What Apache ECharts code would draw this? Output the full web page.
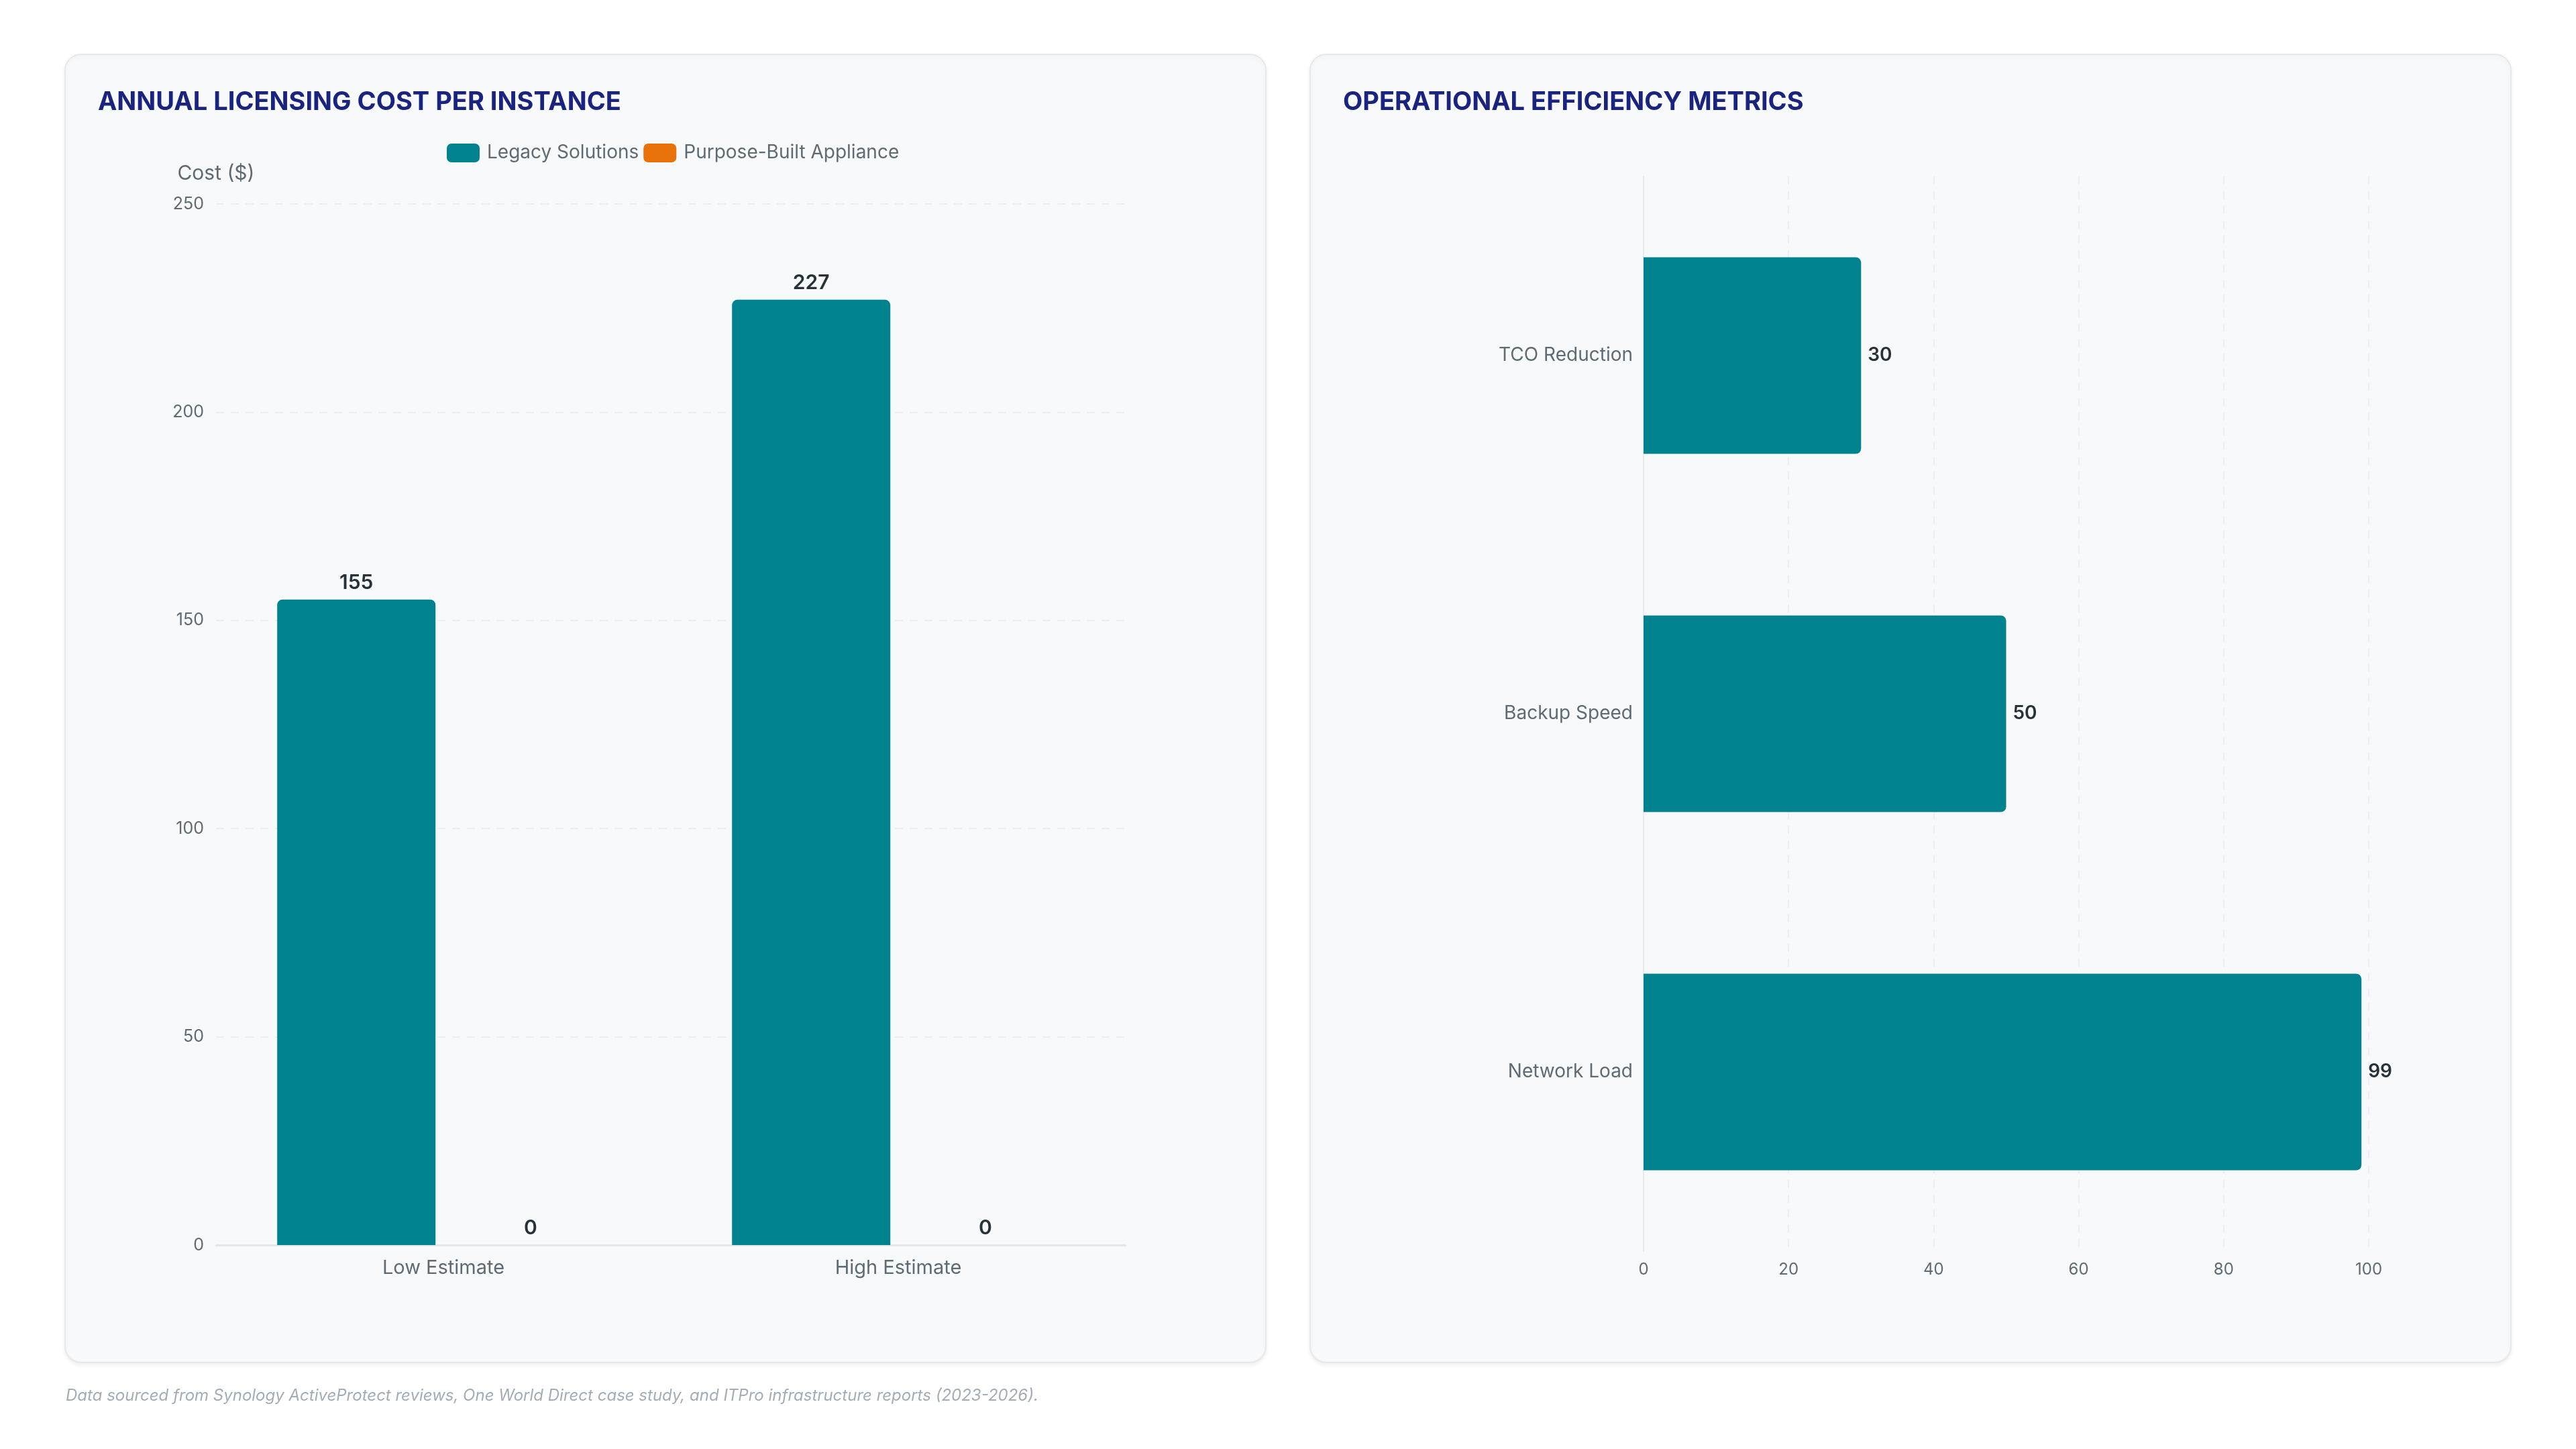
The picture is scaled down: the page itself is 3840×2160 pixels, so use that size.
<!DOCTYPE html>
<html>
<head>
<meta charset="utf-8">
<script src="https://cdn.jsdelivr.net/npm/echarts@6/dist/echarts.min.js"></script>
<style>
  html, body { margin: 0; padding: 0; background: #ffffff; }
  #main { width: 3840px; height: 2160px; }
</style>
</head>
<body>
<div id="main"></div>
<script>
// data
var costCategories = ['Low Estimate', 'High Estimate'];
var legacyCost = [155, 227];
var applianceCost = [0, 0];
var costTicks = { min: 0, max: 250, interval: 50 };

var metricNames = ['Network Load', 'Backup Speed', 'TCO Reduction'];
var metricValues = [99, 50, 30];
var metricTicks = { min: 0, max: 100, interval: 20 };

var FONT = 'Inter, "Noto Sans", sans-serif';
var TEAL = '#00838f';
var ORANGE = '#e8710a';
var NAVY = '#1a237e';
var LABEL = '#5f6b73';
var GRIDLINE = '#eceef1';

var chart = echarts.init(document.getElementById('main'));

function card(x) {
  return {
    type: 'rect',
    z: -10,
    shape: { x: x, y: 81, width: 1790, height: 1950, r: 24 },
    style: {
      fill: '#f8f9fb',
      stroke: '#e6e8eb',
      lineWidth: 2,
      shadowColor: 'rgba(0,0,0,0.06)',
      shadowBlur: 6,
      shadowOffsetY: 3
    }
  };
}

var option = {
  backgroundColor: '#ffffff',
  textStyle: { fontFamily: FONT },
  animation: false,
  title: [
    {
      text: 'ANNUAL LICENSING COST PER INSTANCE',
      left: 146, top: 134, padding: 0,
      textStyle: { color: NAVY, fontSize: 38, fontWeight: 700, fontFamily: FONT }
    },
    {
      text: 'OPERATIONAL EFFICIENCY METRICS',
      left: 2002, top: 134, padding: 0,
      textStyle: { color: NAVY, fontSize: 38, fontWeight: 700, fontFamily: FONT }
    }
  ],
  legend: {
    data: ['Legacy Solutions', 'Purpose-Built Appliance'],
    left: 666, top: 214, padding: 0,
    icon: 'roundRect',
    itemWidth: 49, itemHeight: 28, itemGap: 7,
    textStyle: { color: LABEL, fontSize: 28, fontFamily: FONT, padding: [0, 0, 0, 6] }
  },
  graphic: [
    card(97),
    card(1953),
    {
      type: 'text',
      left: 98, top: 2069,
      style: {
        text: 'Data sourced from Synology ActiveProtect reviews, One World Direct case study, and ITPro infrastructure reports (2023-2026).',
        fill: '#a3adb6',
        font: 'italic 24px ' + FONT
      }
    }
  ],
  grid: [
    { left: 322, top: 304, width: 1356, height: 1552 },
    { left: 2450, top: 263, width: 1081, height: 1602 }
  ],
  xAxis: [
    {
      type: 'category', gridIndex: 0, data: costCategories,
      axisLine: { lineStyle: { color: '#e3e6ea', width: 3 } },
      axisTick: { show: false },
      axisLabel: { color: LABEL, fontSize: 29, margin: 20, fontFamily: FONT }
    },
    {
      type: 'value', gridIndex: 1,
      min: metricTicks.min, max: metricTicks.max, interval: metricTicks.interval,
      axisLine: { show: false },
      axisTick: { show: false },
      axisLabel: { color: LABEL, fontSize: 24, margin: 16, fontFamily: FONT },
      splitLine: { lineStyle: { color: GRIDLINE, width: 2, type: [12, 10] } }
    }
  ],
  yAxis: [
    {
      type: 'value', gridIndex: 0,
      min: costTicks.min, max: costTicks.max, interval: costTicks.interval,
      name: 'Cost ($)', nameGap: 30,
      nameTextStyle: { color: LABEL, fontSize: 30, fontFamily: FONT },
      axisLine: { show: false },
      axisTick: { show: false },
      axisLabel: { color: LABEL, fontSize: 25, margin: 18, fontFamily: FONT },
      splitLine: { lineStyle: { color: GRIDLINE, width: 2, type: [12, 10] } }
    },
    {
      type: 'category', gridIndex: 1, data: metricNames,
      axisLine: { show: true, lineStyle: { color: '#e8eaed', width: 2 } },
      axisTick: { show: false },
      axisLabel: { color: LABEL, fontSize: 28, margin: 16, fontFamily: FONT }
    }
  ],
  series: [
    {
      name: 'Legacy Solutions', type: 'bar',
      xAxisIndex: 0, yAxisIndex: 0,
      data: legacyCost,
      barWidth: 236, barGap: '10%',
      itemStyle: { color: TEAL, borderRadius: [8, 8, 0, 0] },
      label: { show: true, position: 'top', distance: 10, color: '#263238', fontSize: 30, fontWeight: 600, fontFamily: FONT }
    },
    {
      name: 'Purpose-Built Appliance', type: 'bar',
      xAxisIndex: 0, yAxisIndex: 0,
      data: applianceCost,
      barWidth: 236,
      itemStyle: { color: ORANGE, borderRadius: [8, 8, 0, 0] },
      label: { show: true, position: 'top', distance: 10, color: '#263238', fontSize: 30, fontWeight: 600, fontFamily: FONT }
    },
    {
      name: 'Metrics', type: 'bar',
      xAxisIndex: 1, yAxisIndex: 1,
      data: metricValues,
      barWidth: 293,
      itemStyle: { color: TEAL, borderRadius: [0, 8, 8, 0] },
      label: { show: true, position: 'right', distance: 10, color: '#263238', fontSize: 28, fontWeight: 600, fontFamily: FONT }
    }
  ]
};

chart.setOption(option);
</script>
</body>
</html>
